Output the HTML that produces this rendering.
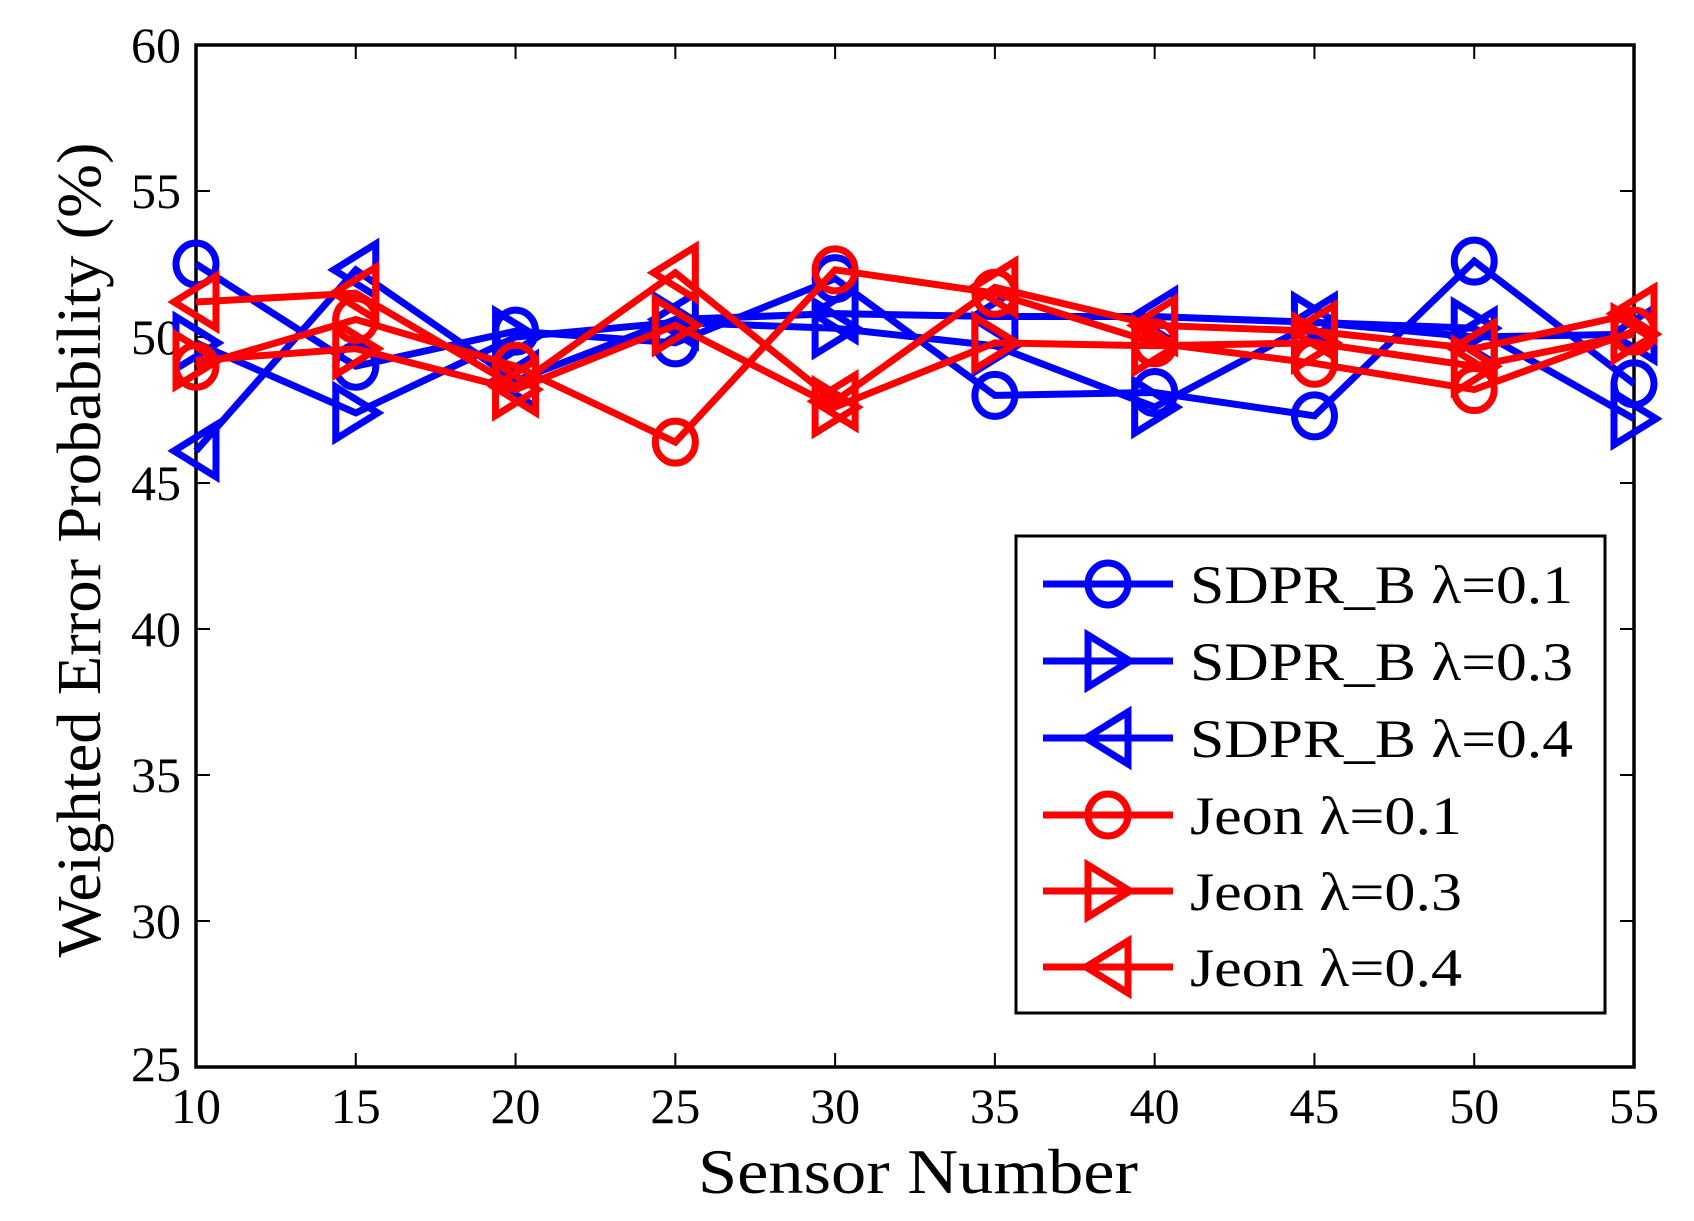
<!DOCTYPE html>
<html><head><meta charset="utf-8"><style>
html,body{margin:0;padding:0;background:#fff;}
svg{display:block;font-family:"Liberation Serif",serif;}
</style></head><body>
<svg id="chart" width="1694" height="1221" viewBox="0 0 1694 1221" xmlns="http://www.w3.org/2000/svg">
<g id="plot"></g>
</svg>
<script>
const categories = [10,15,20,25,30,35,40,45,50,55];
const sdprB01 = [52.5,49.0,50.2,49.8,52.0,48.0,48.1,47.3,52.6,48.4];
const sdprB03 = [49.8,47.4,50.0,50.5,50.3,49.7,47.6,50.5,50.3,47.2];
const sdprB04 = [46.1,52.3,48.5,50.6,50.8,50.7,50.7,50.5,50.0,50.1];
const jeon01 = [49.0,50.6,49.0,46.4,52.3,51.5,49.8,49.1,48.2,50.2];
const jeon03 = [49.2,49.6,48.2,50.4,47.6,49.8,49.7,49.8,49.0,50.1];
const jeon04 = [51.2,51.5,48.3,52.2,47.8,51.7,50.4,50.2,49.6,50.8];
const seriesNames = ["SDPR_B λ=0.1","SDPR_B λ=0.3","SDPR_B λ=0.4","Jeon λ=0.1","Jeon λ=0.3","Jeon λ=0.4"];
const xTicks = [10,15,20,25,30,35,40,45,50,55];
const yTicks = [25,30,35,40,45,50,55,60];

const L=196,R=1634,T=45,B=1067;
const xMin=10,xMax=55,yMin=25,yMax=60;
const xs=v=>L+(v-xMin)/(xMax-xMin)*(R-L);
const ys=v=>B-(v-yMin)/(yMax-yMin)*(B-T);
const NS="http://www.w3.org/2000/svg";
const g=document.getElementById('plot');
function mk(tag,attrs,parent){const e=document.createElementNS(NS,tag);for(const k in attrs)e.setAttribute(k,attrs[k]);(parent||g).appendChild(e);return e;}

const box=mk('rect',{x:L,y:T,width:R-L,height:B-T,fill:'none',stroke:'#000','stroke-width':3.5});



xTicks.forEach(t=>{
  const x=xs(t);
  const a=mk('line',{x1:x,y1:B,x2:x,y2:B-14,stroke:'#000','stroke-width':2});
  
  
  const b=mk('line',{x1:x,y1:T,x2:x,y2:T+14,stroke:'#000','stroke-width':2});
  
  
  const tx=mk('text',{x:x,y:1123,'font-size':50,'text-anchor':'middle',fill:'#000'});
  tx.textContent=t;
  
  
});
yTicks.forEach(t=>{
  const y=ys(t);
  const a=mk('line',{x1:L,y1:y,x2:L+14,y2:y,stroke:'#000','stroke-width':2});
  
  
  const b=mk('line',{x1:R,y1:y,x2:R-14,y2:y,stroke:'#000','stroke-width':2});
  
  
  const tx=mk('text',{x:181,y:y+(t===25?14:17),'font-size':50,'text-anchor':'end',fill:'#000'});
  tx.textContent=t;
  
  
});
const xl=mk('text',{x:918,y:1193,'font-size':64,'text-anchor':'middle',fill:'#000',textLength:440,lengthAdjust:'spacingAndGlyphs'});
xl.textContent='Sensor Number';


const yl=mk('text',{x:0,y:0,'font-size':62,'text-anchor':'middle',fill:'#000',textLength:815,lengthAdjust:'spacingAndGlyphs',transform:'translate(100,550) rotate(-90)'});
yl.textContent='Weighted Error Probability (%)';



function marker(type,cx,cy,color,parent){
  const r=20;
  if(type==='o') return mk('ellipse',{cx:cx,cy:cy,rx:r,ry:r*1.05,fill:'none',stroke:color,'stroke-width':7},parent);
  if(type==='>') return mk('polygon',{points:`${cx-r},${cy-r*1.3} ${cx+r*1.1},${cy} ${cx-r},${cy+r*1.3}`,fill:'none',stroke:color,'stroke-width':7},parent);
  return mk('polygon',{points:`${cx+r},${cy-r*1.3} ${cx-r*1.1},${cy} ${cx+r},${cy+r*1.3}`,fill:'none',stroke:color,'stroke-width':7},parent);
}
const allSeries=[sdprB01,sdprB03,sdprB04,jeon01,jeon03,jeon04];
const colors=['#0000ff','#0000ff','#0000ff','#ff0000','#ff0000','#ff0000'];
const mtypes=['o','>','<','o','>','<'];
const snames=['sdpr-b-0.1','sdpr-b-0.3','sdpr-b-0.4','jeon-0.1','jeon-0.3','jeon-0.4'];
allSeries.forEach((vals,i)=>{
  const sg=mk('g',{});
  
  
  const pts=vals.map((v,j)=>xs(categories[j])+','+ys(v)).join(' ');
  const pl=mk('polyline',{points:pts,fill:'none',stroke:colors[i],'stroke-width':7,'stroke-linejoin':'miter'},sg);
  
  
  vals.forEach((v,j)=>{
    const m=marker(mtypes[i],xs(categories[j]),ys(v),colors[i],sg);
    
    
  });
});

const lg=mk('g',{});


const lb=mk('rect',{x:1016,y:536,width:589,height:477,fill:'#fff',stroke:'#000','stroke-width':3},lg);


const legY=[584,661,738,815,891,967];
seriesNames.forEach((n,i)=>{
  const eg=mk('g',{},lg);
  
  
  mk('line',{x1:1043,y1:legY[i],x2:1173,y2:legY[i],stroke:colors[i],'stroke-width':7},eg);
  marker(mtypes[i],1108,legY[i],colors[i],eg);
  const t=mk('text',{x:1190,y:legY[i]+19,'font-size':54,fill:'#000',textLength:(i<3?383:272),lengthAdjust:'spacingAndGlyphs'},eg);
  t.textContent=n;
  
  
});
</script>
</body></html>
